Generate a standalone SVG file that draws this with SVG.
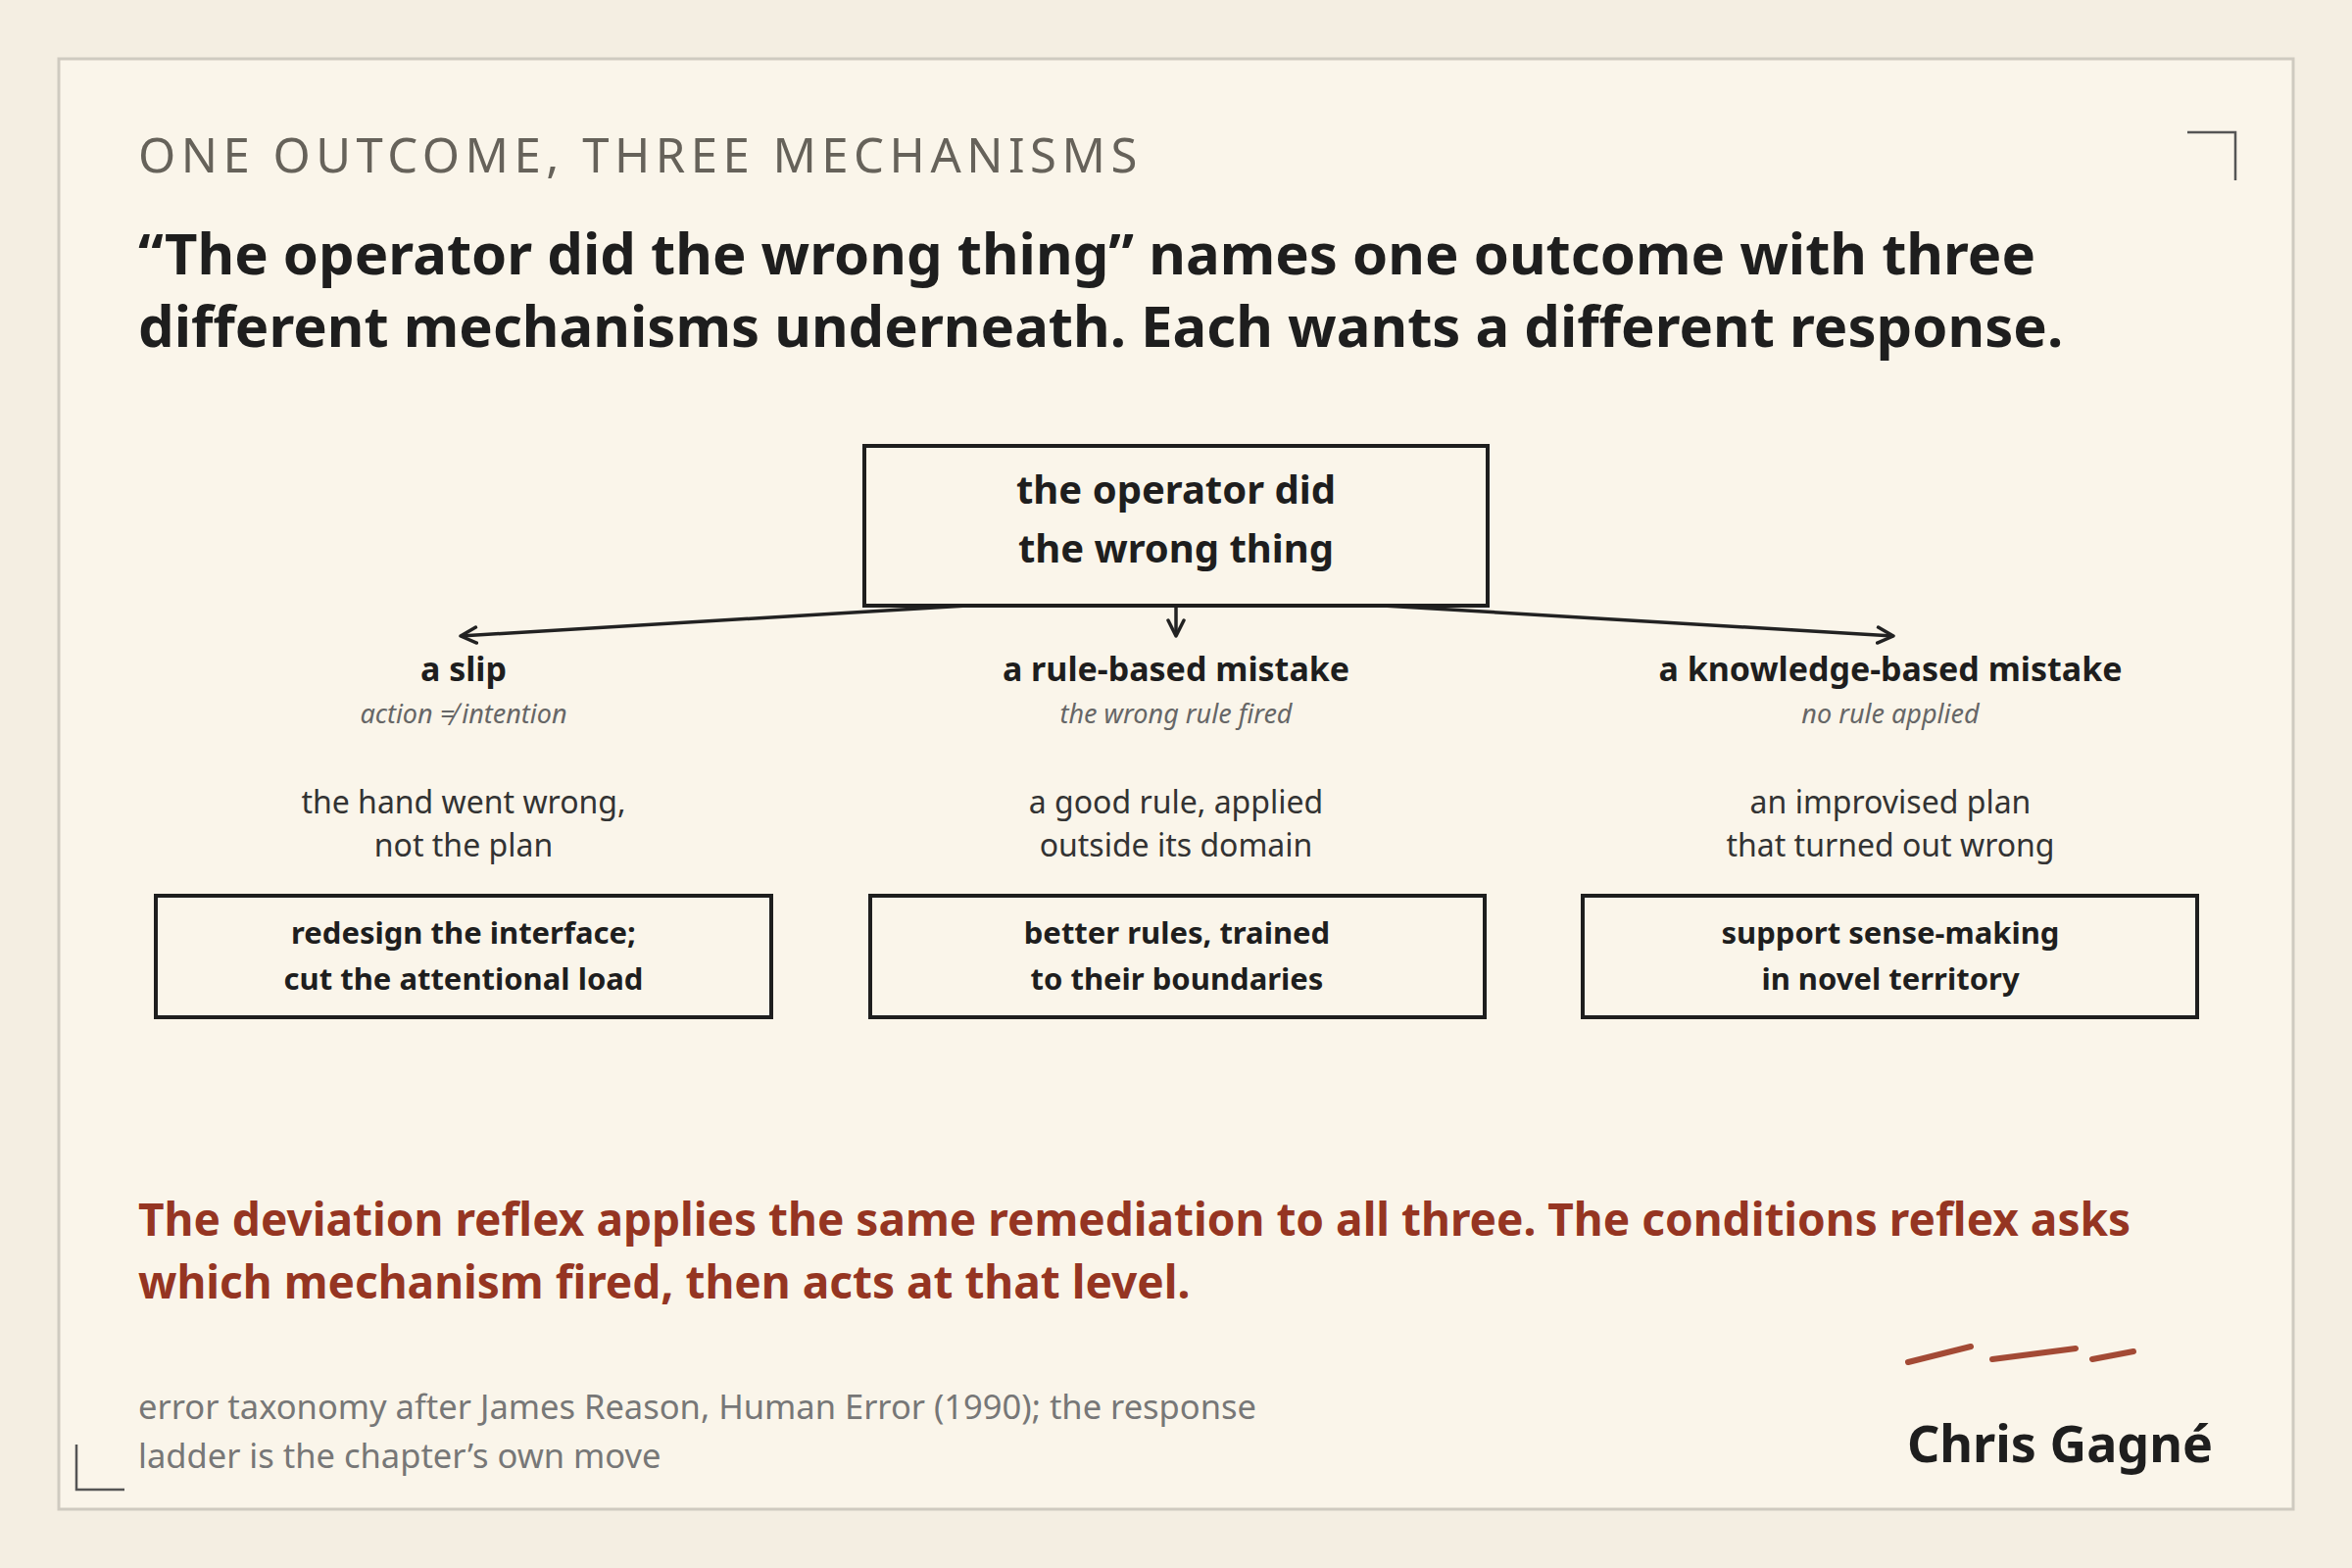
<svg xmlns="http://www.w3.org/2000/svg" width="2400" height="1600" viewBox="0 0 2400 1600">
<defs>
<marker id="ah" viewBox="0 0 20 20" refX="18" refY="10" markerWidth="20" markerHeight="20" markerUnits="userSpaceOnUse" orient="auto">
<path d="M2,2 L18,10 L2,18" fill="none" stroke="#222" stroke-width="3.5" stroke-linecap="round" stroke-linejoin="round"/>
</marker>
<style>
text{font-family:"Noto Sans","Open Sans","Liberation Sans",sans-serif;}
.b{font-weight:bold;fill:#1e1e1e;}
.box{fill:none;stroke:#1e1e1e;stroke-width:4;}
.lab{font-size:34px;text-anchor:middle;font-weight:bold;fill:#1e1e1e;}
.sub{font-size:27px;text-anchor:middle;font-style:italic;fill:#666;}
.desc{font-size:32px;text-anchor:middle;fill:#333;}
.bt{font-size:31px;text-anchor:middle;font-weight:bold;fill:#1e1e1e;}
.rt{font-size:40px;text-anchor:middle;font-weight:bold;fill:#1e1e1e;}
.con{stroke:#222;stroke-width:3.5;fill:none;}
</style>
</defs>
<rect width="2400" height="1600" fill="#f4eee2"/>
<rect x="60" y="60" width="2280" height="1480" fill="#faf5ea" stroke="#cfcac0" stroke-width="3"/>
<path d="M2232,135 L2281,135 L2281,184" fill="none" stroke="#555" stroke-width="2.5"/>
<path d="M78,1474 L78,1520 L127,1520" fill="none" stroke="#555" stroke-width="2.5"/>
<text x="141" y="176" font-size="49" fill="#66625a" letter-spacing="5.5">ONE OUTCOME, THREE MECHANISMS</text>
<text x="141" y="280" font-size="58" class="b">“The operator did the wrong thing” names one outcome with three</text>
<text x="141" y="354" font-size="58" class="b">different mechanisms underneath. Each wants a different response.</text>
<g id="connectors">
<line class="con" x1="987" y1="618" x2="470" y2="649" marker-end="url(#ah)"/>
<line class="con" x1="1200" y1="618" x2="1200" y2="649" marker-end="url(#ah)"/>
<line class="con" x1="1411" y1="618" x2="1932" y2="649" marker-end="url(#ah)"/>
</g>
<g id="root">
<rect class="box" x="882" y="455" width="636" height="163"/>
<text class="rt" x="1200" y="514">the operator did</text>
<text class="rt" x="1200" y="574">the wrong thing</text>
</g>
<g id="slip">
<text class="lab" x="473" y="695">a slip</text>
<text class="sub" x="473" y="738">action ≠ intention</text>
<text class="desc" x="473" y="830">the hand went wrong,</text>
<text class="desc" x="473" y="874">not the plan</text>
</g>
<g id="rule">
<text class="lab" x="1200" y="695">a rule-based mistake</text>
<text class="sub" x="1200" y="738">the wrong rule fired</text>
<text class="desc" x="1200" y="830">a good rule, applied</text>
<text class="desc" x="1200" y="874">outside its domain</text>
</g>
<g id="knowledge">
<text class="lab" x="1929" y="695">a knowledge-based mistake</text>
<text class="sub" x="1929" y="738">no rule applied</text>
<text class="desc" x="1929" y="830">an improvised plan</text>
<text class="desc" x="1929" y="874">that turned out wrong</text>
</g>
<g id="resp-slip">
<rect class="box" x="159" y="914" width="628" height="124"/>
<text class="bt" x="473" y="963">redesign the interface;</text>
<text class="bt" x="473" y="1010">cut the attentional load</text>
</g>
<g id="resp-rule">
<rect class="box" x="888" y="914" width="627" height="124"/>
<text class="bt" x="1201" y="963">better rules, trained</text>
<text class="bt" x="1201" y="1010">to their boundaries</text>
</g>
<g id="resp-knowledge">
<rect class="box" x="1615" y="914" width="627" height="124"/>
<text class="bt" x="1929" y="963">support sense-making</text>
<text class="bt" x="1929" y="1010">in novel territory</text>
</g>
<text x="141" y="1261" font-size="46" font-weight="bold" fill="#953522">The deviation reflex applies the same remediation to all three. The conditions reflex asks</text>
<text x="141" y="1325" font-size="46" font-weight="bold" fill="#953522">which mechanism fired, then acts at that level.</text>
<text x="141" y="1448" font-size="34.5" fill="#777">error taxonomy after James Reason, Human Error (1990); the response</text>
<text x="141" y="1498" font-size="34.5" fill="#777">ladder is the chapter’s own move</text>
<g stroke="#a34a35" stroke-width="6" stroke-linecap="round">
<line x1="1947" y1="1390" x2="2011" y2="1374"/>
<line x1="2033" y1="1387" x2="2118" y2="1376"/>
<line x1="2135" y1="1387" x2="2177" y2="1379"/>
</g>
<text x="2258" y="1492" font-size="52" font-weight="bold" fill="#1e1e1e" text-anchor="end">Chris Gagné</text>
</svg>
